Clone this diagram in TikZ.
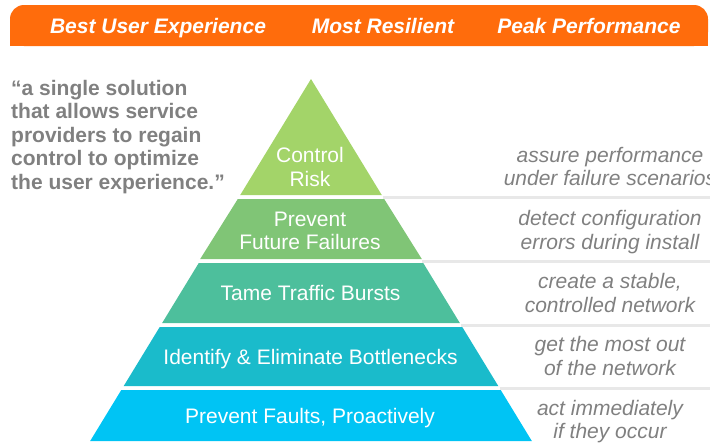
\documentclass[tikz,border=0pt]{standalone}
\usepackage{fontspec}
\setmainfont{Liberation Sans}
\definecolor{hdr}{HTML}{FF6C0C}
\definecolor{lay1}{HTML}{A3D469}
\definecolor{lay2}{HTML}{80C576}
\definecolor{lay3}{HTML}{4DBF9C}
\definecolor{lay4}{HTML}{1ABBCB}
\definecolor{lay5}{HTML}{00C4F4}
\definecolor{txtgrey}{HTML}{808080}
\definecolor{sepgrey}{HTML}{E8E8E8}
\begin{document}
\begin{tikzpicture}[x=1pt,y=-1pt,
  hdrtext/.style={text=white,inner sep=0pt,anchor=base,font=\fontsize{21}{24}\selectfont\bfseries\itshape},
  quotetext/.style={text=txtgrey,inner sep=0pt,anchor=base west,font=\fontsize{21}{24}\selectfont\bfseries},
  sidetext/.style={text=txtgrey,inner sep=0pt,anchor=base,font=\fontsize{21}{24}\selectfont\itshape},
  laytext/.style={text=white,inner sep=0pt,anchor=base,font=\fontsize{21}{24}\selectfont},
  sepline/.style={draw=sepgrey,line width=3pt}]
\useasboundingbox (0,0) rectangle (710,445);
\clip (0,0) rectangle (710,445);
% header
\fill[hdr,rounded corners=14pt] (10,5) rectangle (708,46);
\fill[hdr] (10,25) rectangle (708,46);
\node[hdrtext] (h1) at (158,33) {Best User Experience};
\node[hdrtext] (h2) at (383,33) {Most Resilient};
\node[hdrtext] (h3) at (589,33) {Peak Performance};
% quote
\node[quotetext] (q1) at (11,95) {“a single solution};
\node[quotetext] (q2) at (11,118.5) {that allows service};
\node[quotetext] (q3) at (11,142) {providers to regain};
\node[quotetext] (q4) at (11,165.5) {control to optimize};
\node[quotetext] (q5) at (11,189) {the user experience.”};
% separators
\coordinate (s1a) at (383,197); \coordinate (s1b) at (712,197);
\coordinate (s2a) at (422,261); \coordinate (s2b) at (712,261);
\coordinate (s3a) at (461,325); \coordinate (s3b) at (712,325);
\coordinate (s4a) at (499.5,388); \coordinate (s4b) at (712,388);
\draw[sepline] (s1a) -- (s1b);
\draw[sepline] (s2a) -- (s2b);
\draw[sepline] (s3a) -- (s3b);
\draw[sepline] (s4a) -- (s4b);
% pyramid layers
\fill[lay1] (311,79) -- (381.76,195) -- (240.24,195) -- cycle;
\fill[lay2] (237.8,199) -- (384.2,199) -- (421.8,259) -- (200.2,259) -- cycle;
\fill[lay3] (198.76,263) -- (423.24,263) -- (459.84,323) -- (162.16,323) -- cycle;
\fill[lay4] (159.72,327) -- (462.28,327) -- (498.27,386) -- (123.73,386) -- cycle;
\fill[lay5] (121.29,390) -- (500.71,390) -- (531.82,441) -- (90.18,441) -- cycle;
% layer labels
\node[laytext] (l1a) at (310,162) {Control};
\node[laytext] (l1b) at (310,186) {Risk};
\node[laytext] (l2a) at (310,226) {Prevent};
\node[laytext] (l2b) at (310,249.5) {Future Failures};
\node[laytext] (l3) at (310.5,300) {Tame Traffic Bursts};
\node[laytext] (l4) at (310.5,364) {Identify \& Eliminate Bottlenecks};
\node[laytext] (l5) at (310,423) {Prevent Faults, Proactively};
% side texts
\node[sidetext] (r1a) at (610,162) {assure performance};
\node[sidetext] (r1b) at (610,185.5) {under failure scenarios};
\node[sidetext] (r2a) at (610,225.5) {detect configuration};
\node[sidetext] (r2b) at (610,249) {errors during install};
\node[sidetext] (r3a) at (610,288.5) {create a stable,};
\node[sidetext] (r3b) at (610,312) {controlled network};
\node[sidetext] (r4a) at (610,351.5) {get the most out};
\node[sidetext] (r4b) at (610,375) {of the network};
\node[sidetext] (r5a) at (610,415) {act immediately};
\node[sidetext] (r5b) at (610,438.5) {if they occur};
\end{tikzpicture}
\end{document}
